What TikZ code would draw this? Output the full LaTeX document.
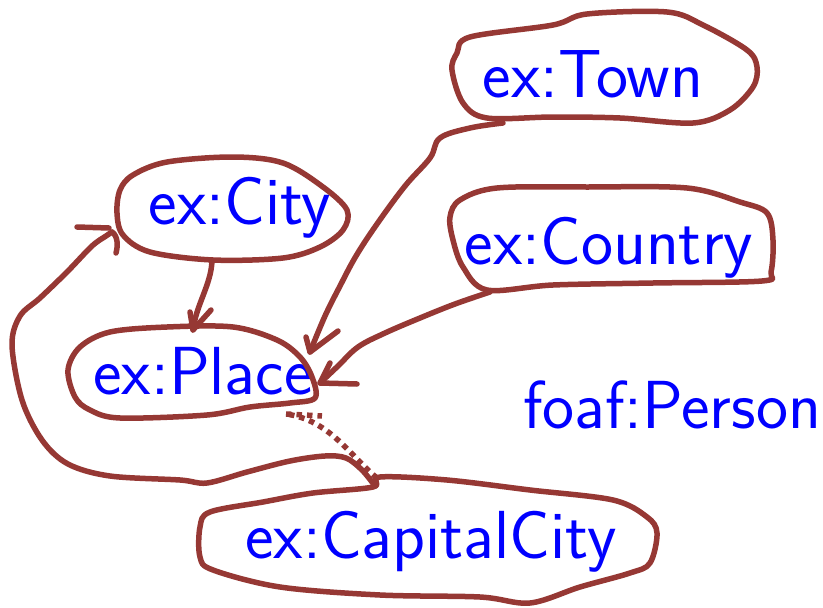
\documentclass[tikz,border=0pt]{standalone}
\begin{document}
\begin{tikzpicture}[x=1pt,y=-1pt,
  pen/.style={draw=penred,line width=5.5pt,line cap=round,line join=round},
  dots/.style={draw=penred,line width=5.5pt,line cap=butt,dash pattern=on 5.5pt off 5pt},
  label/.style={text=blue,font=\sffamily\fontsize{68}{76}\selectfont,inner sep=0pt,anchor=base}]
\definecolor{penred}{RGB}{150,56,52}
\useasboundingbox (0,0) rectangle (823,608);

% class labels
\node[label] (town)    at (593,97)  {ex:Town};
\node[label] (city)    at (240,224) {ex:City};
\node[label] (country) at (609,264) {ex:Country};
\node[label] (place)   at (203,394) {ex:Place};
\node[label] (person)  at (672,428) {foaf:Person};
\node[label] (capital) at (431,558) {ex:CapitalCity};

% hand-drawn outlines
\draw[pen] plot[smooth cycle,tension=0.55] coordinates {
  (470,37) (553,25) (587,14) (667,12) (703,25) (747,50) (757,67) (753,87)
  (730,110) (693,123) (620,118) (553,117) (487,118) (463,103) (452,70) (457,53)};
\draw[pen] plot[smooth cycle,tension=0.55] coordinates {
  (120,190) (133,175) (167,162) (233,157) (283,163) (323,187) (347,210) (343,230)
  (320,247) (283,258) (213,260) (150,252) (123,235) (117,213)};
\draw[pen] plot[smooth cycle,tension=0.55] coordinates {
  (450,217) (460,200) (497,188) (587,187) (687,188) (740,202) (767,213) (773,240)
  (771,272) (762,281) (653,283) (553,285) (487,290) (463,267) (453,240)};
\draw[pen] plot[smooth cycle,tension=0.55] coordinates {
  (80,347) (110,332) (167,327) (233,327) (277,340) (300,357) (312,377) (315,398)
  (290,403) (250,407) (207,415) (120,418) (90,410) (75,397) (68,370)};
\draw[pen] plot[smooth cycle,tension=0.55] coordinates {
  (373,487) (313,493) (263,502) (210,512) (200,527) (200,557) (213,570) (280,587)
  (380,595) (480,597) (530,603) (580,587) (630,573) (650,563) (657,533) (647,517)
  (613,500) (530,490) (447,480) (380,477)};

% connector ports
\coordinate (town-out)    at (503,123);
\coordinate (country-out) at (490,292);
\coordinate (city-out)    at (212,261);
\coordinate (cap-out)     at (375,486);
\coordinate (cap-top)     at (377,478);
\coordinate (place-n)     at (193,330);
\coordinate (place-ne)    at (310,352);
\coordinate (place-e)     at (320,383);
\coordinate (place-se)    at (286,414);
\coordinate (city-w)      at (112,232);

% ex:City -> ex:Place
\draw[pen] (city-out) .. controls (211,285) and (196,305) .. (place-n);
\draw[pen] (190,312) -- (place-n) -- (211,310);

% ex:Town -> ex:Place
\draw[pen] plot[smooth,tension=0.6] coordinates {
  (503,123) (470,128) (440,138) (430,158) (405,186) (377,224) (356,256)
  (340,286) (325,316) (310,352)};
\draw[pen] (306,337) -- (place-ne) -- (338,331);

% ex:Country -> ex:Place
\draw[pen] plot[smooth,tension=0.6] coordinates {
  (490,292) (455,304) (420,318) (385,333) (358,347) (338,366) (320,383)};
\draw[pen] (330,363) -- (place-e) -- (357,384);

% ex:CapitalCity -> ex:City (long loop on the left)
\draw[pen] plot[smooth,tension=0.55] coordinates {
  (375,486) (362,470) (346,458) (325,456) (290,461) (247,472) (207,483)
  (180,480) (110,476) (68,464) (42,440) (22,400) (12,345) (20,316)
  (40,298) (67,272) (92,246) (106,236) (112,232)};
\draw[pen] (77,227) -- (109,228);
\draw[pen] (city-w) .. controls (118,236) and (118,246) .. (116,253);

% ex:CapitalCity ..> ex:Place
\draw[dots] (cap-top) .. controls (350,456) and (330,420) .. (place-se);
\draw[dots] (place-se) -- (322,416);
\end{tikzpicture}
\end{document}
